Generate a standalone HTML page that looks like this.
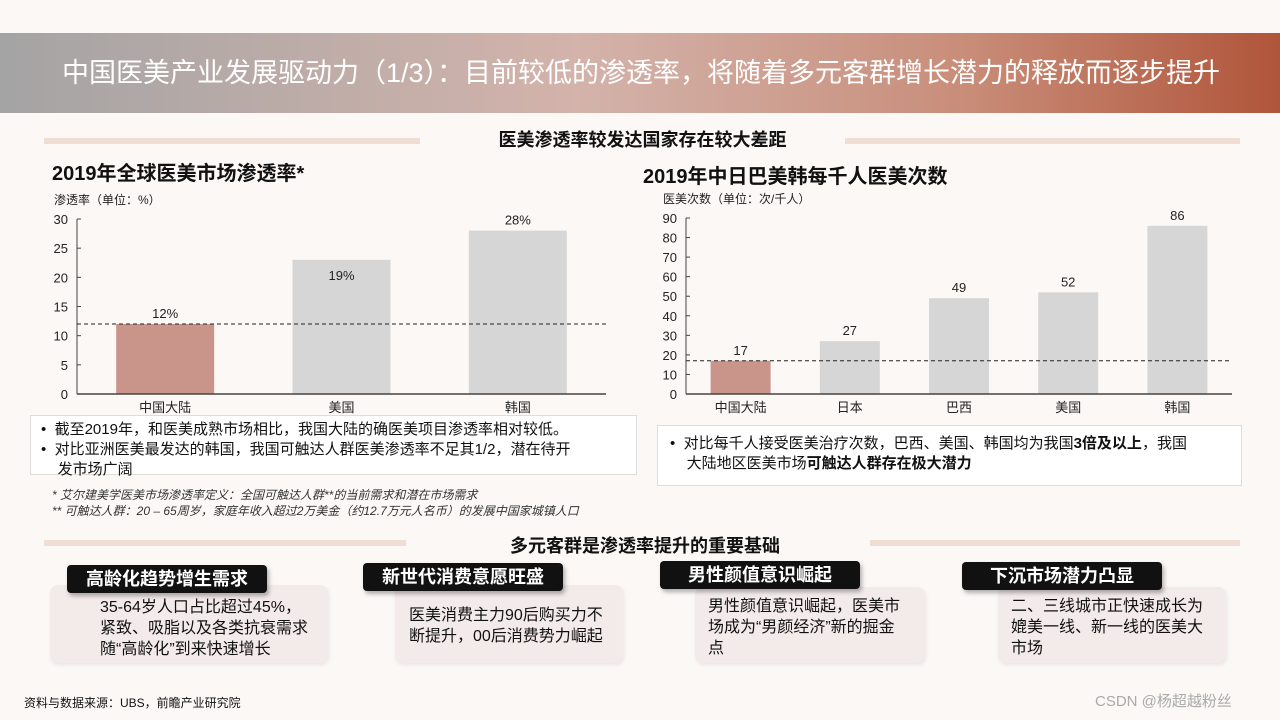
<!DOCTYPE html>
<html><head><meta charset="utf-8">
<style>
body{margin:0;width:1280px;height:720px;background:#fbf8f6;position:relative;overflow:hidden;font-family:"Liberation Sans","Noto Sans CJK SC",sans-serif;color:#111}
.a{position:absolute}
.hdr{left:0;top:33px;width:1280px;height:80px;background:linear-gradient(90deg,#a4a4a4 0%,#d3b3ab 45%,#c98e7a 75%,#b0553a 100%);color:#fff;font-size:27px;line-height:80px;text-indent:62px}
.bar{height:6px;background:#f0ddd3}
.sec{font-size:18px;font-weight:bold;text-align:center;background:#fbf8f6;padding:0 10px}
.ct{font-size:20px;font-weight:bold}
.box{background:#fff;border:1px solid #ddd;font-size:15px;line-height:20px}
.tag{background:#111;color:#fff;font-weight:bold;font-size:18px;height:28px;line-height:28px;text-align:center;border-radius:4px;box-shadow:2px 3px 4px rgba(0,0,0,.3)}
.card{background:#f3eaea;border-radius:8px;font-size:15px;line-height:21px;box-shadow:1px 2px 4px rgba(0,0,0,.08)}
</style></head><body>
<div class="a hdr">中国医美产业发展驱动力（1/3）：目前较低的渗透率，将随着多元客群增长潜力的释放而逐步提升</div>

<div class="a bar" style="left:44px;top:138px;width:376px"></div>
<div class="a bar" style="left:845px;top:138px;width:395px"></div>
<div class="a sec" style="left:440px;top:126px;width:385px">医美渗透率较发达国家存在较大差距</div>

<div class="a ct" style="left:52px;top:157px">2019年全球医美市场渗透率*</div>
<div class="a ct" style="left:643px;top:160px">2019年中日巴美韩每千人医美次数</div>

<svg class="a" style="left:0;top:0" width="1280" height="420" id="charts"></svg>

<div class="a box" style="left:30px;top:415px;width:605px;height:58px">
<div style="padding:4px 0 0 10px">•&nbsp;&nbsp;截至2019年，和医美成熟市场相比，我国大陆的确医美项目渗透率相对较低。</div>
<div style="padding:0 0 0 10px">•&nbsp;&nbsp;对比亚洲医美最发达的韩国，我国可触达人群医美渗透率不足其1/2，潜在待开<br>&nbsp;&nbsp;&nbsp;&nbsp;发市场广阔</div>
</div>
<div class="a box" style="left:657px;top:425px;width:583px;height:59px">
<div style="padding:8px 10px 0 12px">•&nbsp;&nbsp;对比每千人接受医美治疗次数，巴西、美国、韩国均为我国<b>3倍及以上</b>，我国<br>&nbsp;&nbsp;&nbsp;&nbsp;大陆地区医美市场<b>可触达人群存在极大潜力</b></div>
</div>
<div class="a" style="left:52px;top:487px;font-size:12px;line-height:16px;font-style:italic;color:#333">* 艾尔建美学医美市场渗透率定义：全国可触达人群**的当前需求和潜在市场需求<br>** 可触达人群：20 – 65周岁，家庭年收入超过2万美金（约12.7万元人名币）的发展中国家城镇人口</div>

<div class="a bar" style="left:44px;top:540px;width:362px"></div>
<div class="a bar" style="left:860px;top:540px;width:380px"></div>
<div class="a sec" style="left:420px;top:532px;width:430px">多元客群是渗透率提升的重要基础</div>

<div class="a card" style="left:50px;top:585px;width:278px;height:78px"><div style="padding:12px 0 0 50px;width:214px;font-size:16px">35-64岁人口占比超过45%，紧致、吸脂以及各类抗衰需求随“高龄化”到来快速增长</div></div>
<div class="a tag" style="left:67px;top:565px;width:200px">高龄化趋势增生需求</div>
<div class="a card" style="left:395px;top:585px;width:228px;height:78px"><div style="padding:20px 0 0 14px;width:197px;font-size:16px">医美消费主力90后购买力不断提升，00后消费势力崛起</div></div>
<div class="a tag" style="left:363px;top:563px;width:200px">新世代消费意愿旺盛</div>
<div class="a card" style="left:695px;top:587px;width:230px;height:76px"><div style="padding:9px 0 0 13px;width:196px;font-size:16px">男性颜值意识崛起，医美市场成为“男颜经济”新的掘金点</div></div>
<div class="a tag" style="left:660px;top:561px;width:200px">男性颜值意识崛起</div>
<div class="a card" style="left:998px;top:587px;width:228px;height:76px"><div style="padding:9px 0 0 13px;width:196px;font-size:16px">二、三线城市正快速成长为媲美一线、新一线的医美大市场</div></div>
<div class="a tag" style="left:962px;top:562px;width:200px">下沉市场潜力凸显</div>

<div class="a" style="left:24px;top:694px;font-size:12px">资料与数据来源：UBS，前瞻产业研究院</div>
<div class="a" style="left:1095px;top:690px;font-size:15px;color:#aaa">CSDN @杨超越粉丝</div>

<script>
const c1Cats=["中国大陆","美国","韩国"];
const c1Vals=[12,23,28];
const c1Labels=["12%","19%","28%"];
const c1Ticks=[0,5,10,15,20,25,30];
const c1Ref=12;
const c2Cats=["中国大陆","日本","巴西","美国","韩国"];
const c2Vals=[17,27,49,52,86];
const c2Labels=["17","27","49","52","86"];
const c2Ticks=[0,10,20,30,40,50,60,70,80,90];
const c2Ref=17;
const svg=document.getElementById('charts');
const NS='http://www.w3.org/2000/svg';
function mk(t,at,txt){const e=document.createElementNS(NS,t);for(const k in at)e.setAttribute(k,at[k]);if(txt!=null)e.textContent=txt;svg.appendChild(e);return e;}
function chart(o){
  const y=v=>o.y0-(v-o.min)/(o.max-o.min)*(o.y0-o.y1);
  const band=(o.x1-o.x0)/o.cats.length;
  const ttl=mk('text',{x:o.x0-23,y:o.y1-15,'font-size':12,fill:'#222'},o.unit);
  
  
  o.ticks.forEach(t=>{
    const l=mk('text',{x:o.x0-9,y:y(t)+5,'font-size':13,fill:'#222','text-anchor':'end'},t);
    
    
    mk('line',{x1:o.x0,x2:o.x0+4,y1:y(t),y2:y(t),stroke:'#444'});
  });
  const ax=mk('line',{x1:o.x0,x2:o.x0,y1:o.y1,y2:o.y0,stroke:'#444'});
  
  
  o.cats.forEach((cat,i)=>{
    const cx=o.x0+band*(i+0.5);
    const r=mk('rect',{x:cx-o.bw/2,y:y(o.vals[i]),width:o.bw,height:o.y0-y(o.vals[i]),fill:i===0?'#c9958b':'#d6d6d6'});
    
    
    const ly=o.inside&&o.inside[i]?y(o.vals[i])+20:y(o.vals[i])-6;
    const vl=mk('text',{x:cx,y:ly,'font-size':13,fill:'#222','text-anchor':'middle'},o.labels[i]);
    
    
    const cl=mk('text',{x:cx,y:o.y0+18,'font-size':13,fill:'#222','text-anchor':'middle'},cat);
    
    
  });
  const xa=mk('line',{x1:o.x0,x2:o.x1,y1:o.y0,y2:o.y0,stroke:'#444','stroke-width':1.5});
  
  
  const rl=mk('line',{x1:o.x0,x2:o.x1,y1:y(o.ref),y2:y(o.ref),stroke:'#222','stroke-dasharray':'4,3'});
  
  
}
chart({id:'penetration',x0:77,x1:606,y0:394,y1:219,min:0,max:30,bw:98,cats:c1Cats,vals:c1Vals,labels:c1Labels,ticks:c1Ticks,ref:c1Ref,unit:'渗透率（单位：%）',inside:[false,true,false]});
chart({id:'per-thousand',x0:686,x1:1232,y0:394,y1:218,min:0,max:90,bw:60,cats:c2Cats,vals:c2Vals,labels:c2Labels,ticks:c2Ticks,ref:c2Ref,unit:'医美次数（单位：次/千人）'});
</script>
</body></html>
